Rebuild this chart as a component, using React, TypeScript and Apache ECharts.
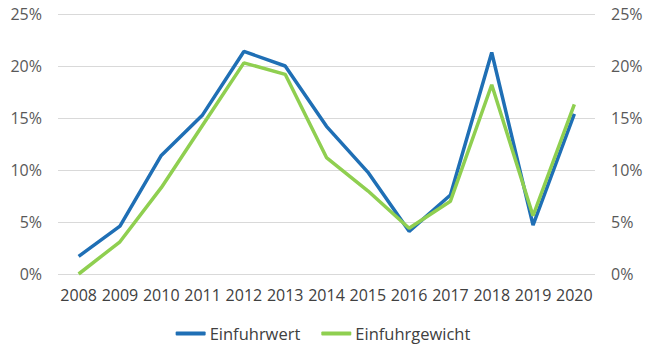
import React, { useEffect, useRef } from "react";
import * as echarts from "echarts";

const years = ["2008","2009","2010","2011","2012","2013","2014","2015","2016","2017","2018","2019","2020"];
const einfuhrwert = [1.7, 4.6, 11.4, 15.3, 21.4, 20.0, 14.2, 9.8, 4.1, 7.6, 21.3, 4.7, 15.4];
const einfuhrgewicht = [0.0, 3.1, 8.3, 14.3, 20.3, 19.2, 11.2, 8.0, 4.4, 7.0, 18.2, 5.6, 16.3];
const FONT = "'Open Sans', sans-serif";

export default function App() {
  const ref = useRef<HTMLDivElement>(null);
  useEffect(() => {
    if (!ref.current) return;
    const chart = echarts.init(ref.current, null, { renderer: "svg" });
    const yAxisBase = {
      type: "value" as const,
      min: 0,
      max: 25,
      interval: 5,
      axisLine: { show: false },
      axisTick: { show: false },
      axisLabel: {
        formatter: "{value}%",
        color: "#595959",
        fontSize: 16,
        fontFamily: FONT,
        margin: 16,
      },
    };
    chart.setOption({
      animation: false,
      backgroundColor: "#ffffff",
      grid: { left: 58, right: 51, top: 14, bottom: 75 },
      xAxis: {
        type: "category",
        data: years,
        boundaryGap: true,
        axisLine: { show: false },
        axisTick: { show: false },
        axisLabel: { color: "#404040", fontSize: 16, fontFamily: FONT, margin: 13, interval: 0 },
      },
      yAxis: [
        { ...yAxisBase, position: "left", splitLine: { lineStyle: { color: "#d9d9d9", width: 1 } } },
        { ...yAxisBase, position: "right", splitLine: { show: false } },
      ],
      legend: {
        bottom: 2,
        left: "center",
        icon: "roundRect",
        itemWidth: 30,
        itemHeight: 4,
        itemGap: 21,
        textStyle: { color: "#404040", fontSize: 16.5, fontFamily: FONT, padding: [0, 0, 0, -1] },
        data: ["Einfuhrwert", "Einfuhrgewicht"],
      },
      series: [
        {
          name: "Einfuhrwert",
          type: "line",
          data: einfuhrwert,
          yAxisIndex: 0,
          symbol: "none",
          lineStyle: { color: "#1F6FB5", width: 3.5 },
          itemStyle: { color: "#1F6FB5" },
          z: 2,
        },
        {
          name: "Einfuhrgewicht",
          type: "line",
          data: einfuhrgewicht,
          yAxisIndex: 0,
          symbol: "none",
          lineStyle: { color: "#8FCF50", width: 3.5 },
          itemStyle: { color: "#8FCF50" },
          z: 3,
        },
      ],
    });
    return () => chart.dispose();
  }, []);
  return <div ref={ref} style={{ width: 646, height: 349, position: "absolute", left: 0, top: 0 }} />;
}
